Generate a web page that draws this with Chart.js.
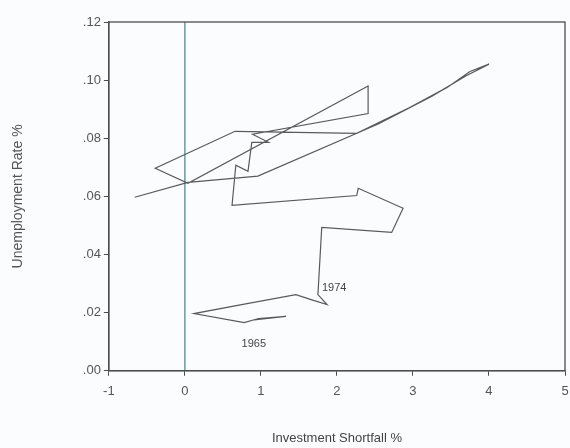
<!DOCTYPE html>
<html>
<head>
<meta charset="utf-8">
<script src="https://cdn.jsdelivr.net/npm/chart.js@4/dist/chart.umd.min.js"></script>
<style>
  html, body { margin: 0; padding: 0; background: #fbfcfd; }
  #wrap { width: 570px; height: 448px; }
</style>
</head>
<body>
<div id="wrap"><canvas id="c" width="570" height="448"></canvas></div>
<script>
// Annual path of investment shortfall vs. unemployment, 1965 onward
const years = [1965, 1966, 1967, 1968, 1969, 1970, 1971, 1972, 1973, 1974,
               1975, 1976, 1977, 1978, 1979, 1980, 1981, 1982, 1983, 1984,
               1985, 1986, 1987, 1988, 1989, 1990, 1991, 1992, 1993, 1994,
               1995, 1996, 1997, 1998, 1999, 2000, 2001];
const shortfall = [0.88, 1.33, 0.97, 0.78, 0.12, 0.80, 1.46, 1.66, 1.87, 1.75,
                   1.80, 2.72, 2.87, 2.28, 2.26, 0.62, 0.67, 0.83, 0.88, 1.10,
                   0.89, 2.41, 2.41, 0.04, -0.39, 0.66, 2.26, 2.95, 3.45, 3.75,
                   4.00, 3.70, 3.25, 2.55, 0.96, 0.04, -0.66];
const unemployment = [0.0174, 0.0187, 0.0180, 0.0166, 0.0197, 0.0230, 0.0262, 0.0245, 0.0228, 0.0262,
                      0.0493, 0.0476, 0.0559, 0.0628, 0.0603, 0.0569, 0.0707, 0.0686, 0.0786, 0.0786,
                      0.0814, 0.0885, 0.0980, 0.0645, 0.0697, 0.0824, 0.0817, 0.0905, 0.0975, 0.1030,
                      0.1055, 0.1015, 0.0945, 0.0850, 0.0670, 0.0648, 0.0597];
const labelledYears = [1965, 1974];
const xTicks = [-1, 0, 1, 2, 3, 4, 5];
const yTicks = [0, 0.02, 0.04, 0.06, 0.08, 0.10, 0.12];

const pathPoints = years.map((yr, i) => ({ x: shortfall[i], y: unemployment[i] }));
const zeroLine = [{ x: 0, y: yTicks[0] }, { x: 0, y: yTicks[yTicks.length - 1] }];

const axisColor = '#4d4d4d';
const textColor = '#555555';

// frame around the plot area and year annotations
const framePlugin = {
  id: 'frame',
  afterDatasetsDraw(chart) {
    const { ctx, chartArea: a, scales } = chart;
    ctx.save();
    ctx.strokeStyle = axisColor;
    ctx.lineWidth = 1.3;
    ctx.strokeRect(a.left, a.top, a.right - a.left, a.bottom - a.top);
    ctx.fillStyle = '#444';
    ctx.font = '11px "Liberation Sans", Arial, sans-serif';
    labelledYears.forEach(yr => {
      const i = years.indexOf(yr);
      const px = scales.x.getPixelForValue(shortfall[i]);
      const py = scales.y.getPixelForValue(unemployment[i]);
      if (yr === 1965) {
        ctx.textAlign = 'center';
        ctx.textBaseline = 'top';
        ctx.fillText(String(yr), px + 2, py + 18);
      } else {
        ctx.textAlign = 'left';
        ctx.textBaseline = 'middle';
        ctx.fillText(String(yr), px + 4, py - 7);
      }
    });
    ctx.restore();
  }
};

new Chart(document.getElementById('c'), {
  type: 'scatter',
  data: {
    datasets: [
      {
        data: pathPoints,
        showLine: true,
        borderColor: '#5a5a5a',
        borderWidth: 1.2,
        pointRadius: 0,
        tension: 0,
        fill: false
      },
      {
        data: zeroLine,
        showLine: true,
        borderColor: '#4a7f8c',
        borderWidth: 1.2,
        pointRadius: 0,
        fill: false
      }
    ]
  },
  options: {
    responsive: false,
    animation: false,
    devicePixelRatio: 1,
    layout: { padding: { top: 22, right: 5, left: 8, bottom: 0 } },
    plugins: {
      legend: { display: false },
      tooltip: { enabled: false }
    },
    scales: {
      x: {
        type: 'linear',
        min: xTicks[0],
        max: xTicks[xTicks.length - 1],
        afterBuildTicks: s => { s.ticks = xTicks.map(v => ({ value: v })); },
        afterFit: s => { s.paddingRight = 0; },
        ticks: {
          color: textColor,
          font: { family: '"Liberation Sans", Arial, sans-serif', size: 13 },
          padding: 8,
          callback: v => String(v)
        },
        grid: { drawOnChartArea: false, drawTicks: true, tickLength: 5, color: axisColor },
        border: { display: true, color: axisColor, width: 1.3 },
        title: {
          display: true,
          text: 'Investment Shortfall %',
          color: '#444',
          font: { family: '"Liberation Sans", Arial, sans-serif', size: 13 },
          padding: { top: 23, bottom: 2 }
        }
      },
      y: {
        type: 'linear',
        min: yTicks[0],
        max: yTicks[yTicks.length - 1],
        afterBuildTicks: s => { s.ticks = yTicks.map(v => ({ value: v })); },
        ticks: {
          color: textColor,
          font: { family: '"Liberation Sans", Arial, sans-serif', size: 13 },
          padding: 3,
          callback: v => v.toFixed(2).replace(/^0/, '')
        },
        grid: { drawOnChartArea: false, drawTicks: true, tickLength: 5, color: axisColor },
        border: { display: true, color: axisColor, width: 1.3 },
        title: {
          display: true,
          text: 'Unemployment Rate %',
          color: '#555',
          font: { family: '"Liberation Sans", Arial, sans-serif', size: 14 },
          padding: { top: 2, bottom: 53 }
        }
      }
    }
  },
  plugins: [framePlugin]
});
</script>
</body>
</html>
